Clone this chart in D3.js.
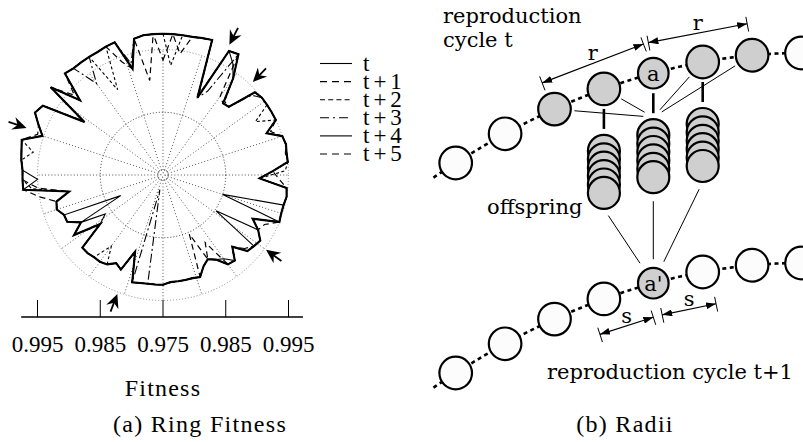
<!DOCTYPE html>
<html><head><meta charset="utf-8">
<script src="https://cdn.jsdelivr.net/npm/d3@7"></script>
<style>body{margin:0;background:#fff}svg{display:block}</style>
</head><body><svg id="c" width="803" height="442"></svg>
<script>
// ---------- DATA : (a) Ring Fitness ----------
const ringAngles = d3.range(0, 360, 4);          // position of each individual on the ring (deg, clockwise from top)
const seriesNames = ["t", "t+1", "t+2", "t+3", "t+4", "t+5"];
const fitT0 = [
 .9975,.9975,.9975,.9975,.9977,.9979,.9885,.9974,.9977,.9940,
 .9899,.9901,.9947,.9950,.9950,.9950,.9950,.9928,.9950,.9952,
 .9950,.9950,.9925,.9904,.9948,.9950,.9948,.9948,.9950,.9909,
 .9925,.9937,.9934,.9931,.9909,.9928,.9926,.9909,.9902,.9909,
 .9923,.9921,.9921,.9921,.9921,.9925,.9925,.9925,.9926,.9928,
 .9880,.9915,.9909,.9918,.9921,.9921,.9923,.9923,.9877,.9921,
 .9901,.9920,.9920,.9928,.9925,.9902,.9974,.9974,.9974,.9977,
 .9979,.9982,.9952,.9964,.9977,.9971,.9901,.9977,.9928,.9975,
 .9972,.9972,.9972,.9972,.9974,.9975,.9926,.9972,.9975,.9975];
const fitT1 = [
 .9975,.9975,.9975,.9975,.9976,.9979,.9890,.9974,.9977,.9905,
 .9899,.9903,.9947,.9950,.9950,.9950,.9950,.9928,.9950,.9952,
 .9948,.9950,.9925,.9904,.9948,.9950,.9948,.9948,.9950,.9930,
 .9925,.9937,.9934,.9931,.9909,.9928,.9926,.9909,.9902,.9853,
 .9923,.9921,.9921,.9921,.9922,.9925,.9925,.9925,.9926,.9928,
 .9880,.9915,.9909,.9918,.9921,.9921,.9923,.9923,.9880,.9921,
 .9901,.9920,.9920,.9928,.9925,.9902,.9950,.9974,.9974,.9977,
 .9979,.9982,.9960,.9964,.9977,.9971,.9905,.9977,.9928,.9975,
 .9972,.9972,.9972,.9972,.9974,.9975,.9926,.9972,.9902,.9975];
const fitT2 = [
 .9975,.9925,.9975,.9975,.9977,.9979,.9885,.9974,.9977,.9940,
 .9903,.9901,.9947,.9950,.9950,.9920,.9950,.9928,.9950,.9952,
 .9950,.9950,.9945,.9904,.9948,.9950,.9948,.9948,.9950,.9909,
 .9925,.9937,.9934,.9931,.9909,.9928,.9926,.9909,.9902,.9909,
 .9923,.9921,.9921,.9921,.9921,.9925,.9925,.9925,.9926,.9928,
 .9880,.9915,.9909,.9918,.9890,.9921,.9923,.9923,.9877,.9921,
 .9901,.9920,.9920,.9928,.9925,.9902,.9960,.9974,.9974,.9977,
 .9960,.9982,.9952,.9964,.9977,.9971,.9901,.9977,.9928,.9975,
 .9972,.9972,.9972,.9904,.9974,.9975,.9926,.9972,.9975,.9975];
const fitT3 = [
 .9975,.9975,.9975,.9975,.9977,.9979,.9885,.9901,.9977,.9940,
 .9899,.9901,.9940,.9950,.9950,.9950,.9950,.9928,.9950,.9952,
 .9950,.9950,.9925,.9904,.9948,.9950,.9948,.9948,.9950,.9909,
 .9925,.9937,.9934,.9925,.9909,.9928,.9926,.9909,.9902,.9909,
 .9923,.9921,.9921,.9921,.9921,.9925,.9925,.9925,.9774,.9928,
 .9880,.9915,.9909,.9918,.9921,.9921,.9923,.9923,.9877,.9921,
 .9901,.9920,.9920,.9928,.9925,.9902,.9974,.9974,.9974,.9977,
 .9979,.9982,.9952,.9964,.9977,.9971,.9901,.9977,.9928,.9975,
 .9972,.9930,.9972,.9972,.9974,.9975,.9935,.9972,.9975,.9975];
const fitT4 = [
 .9975,.9975,.9975,.9975,.9977,.9979,.9885,.9974,.9960,.9940,
 .9899,.9901,.9947,.9950,.9950,.9950,.9950,.9928,.9950,.9952,
 .9950,.9950,.9925,.9904,.9948,.9950,.9948,.9850,.9950,.9909,
 .9925,.9852,.9934,.9931,.9909,.9928,.9915,.9909,.9902,.9909,
 .9923,.9921,.9921,.9921,.9921,.9925,.9925,.9925,.9926,.9928,
 .9880,.9915,.9909,.9918,.9921,.9921,.9923,.9923,.9877,.9861,
 .9901,.9825,.9920,.9928,.9925,.9902,.9974,.9950,.9974,.9977,
 .9979,.9982,.9952,.9964,.9977,.9971,.9901,.9977,.9928,.9975,
 .9972,.9972,.9972,.9972,.9974,.9975,.9926,.9972,.9975,.9975];
const fitT5 = [
 .9933,.9975,.9945,.9975,.9977,.9979,.9885,.9974,.9977,.9940,
 .9899,.9901,.9947,.9950,.9950,.9950,.9950,.9935,.9950,.9952,
 .9950,.9950,.9925,.9935,.9948,.9950,.9948,.9948,.9950,.9909,
 .9925,.9937,.9934,.9931,.9909,.9928,.9926,.9877,.9902,.9909,
 .9923,.9921,.9921,.9921,.9921,.9925,.9925,.9925,.9926,.9928,
 .9880,.9915,.9909,.9918,.9921,.9921,.9923,.9923,.9877,.9921,
 .9901,.9920,.9920,.9928,.9925,.9950,.9974,.9974,.9974,.9977,
 .9979,.9982,.9952,.9964,.9977,.9971,.9901,.9977,.9940,.9975,
 .9972,.9972,.9972,.9972,.9974,.9942,.9926,.9972,.9975,.9975];
const axisTicks = [-0.02, -0.01, 0, 0.01, 0.02];   // signed distance from centre fitness
const centreFitness = 0.975;
const gridLevels = [0.97535, 0.9758, 0.985, 0.995];
const spokeAngles = d3.range(0, 360, 18);
const markAngles = [27, 44, 126, 201, 289];
const markTips = [0.9983, 0.9956, 0.9953, 0.9953, 0.9980];

// ---------- DATA : (b) Radii ----------
const ringIdx = [-4, -3, -2, -1, 0, 1, 2, 3];
const parentsT = [false, false, true, true, true, true, true, false];
const selectedT1 = [false, false, false, false, true, false, false, false];
const labelsT = ["", "", "", "", "a", "", "", ""];
const labelsT1 = ["", "", "", "", "a'", "", "", ""];
const cycles = ["t", "t+1"];
const stackParents = [-1, 0, 1];
const offspringPerParent = [0, 1, 2, 3, 4, 5];
const hubLinks = [-2, -1, 1, 2];
const rSpans = [[-2.25, -0.2], [-0.1, 1.9]];
const sSpans = [[-1.08, 0], [0.18, 1.27]];

// ---------- STYLES ----------
const seriesDash = [null, "6,4", "3,2.5", "9,3,2,3", null, "6,4"];
const seriesWidth = [2.1, 1.2, 1.1, 1.1, 1.1, 1.2];
const legendDash = [null, "7,5", "5,3.2", "9,4,2,4", null, "7,5"];
const serif = "'Liberation Serif', serif";
const dvs = "'DejaVu Serif', serif";

const svg = d3.select("#c");
svg.append("rect").attr("width", 803).attr("height", 442).attr("fill", "#fff");

// ================= (a) polar ring fitness =================
const cx = 163, cy = 175;
const rScale = d3.scaleLinear().domain([centreFitness, 0.995]).range([0, 125.5]);
const rad = d => d * Math.PI / 180;
const gP = svg.append("g").attr("transform", `translate(${cx},${cy})`);

gP.selectAll("line.spoke").data(spokeAngles).join("line")
  .attr("x1", d => rScale(gridLevels[1]) * Math.sin(rad(d)))
  .attr("y1", d => -rScale(gridLevels[1]) * Math.cos(rad(d)))
  .attr("x2", d => rScale(0.995) * Math.sin(rad(d)))
  .attr("y2", d => -rScale(0.995) * Math.cos(rad(d)))
  .attr("stroke", "#555").attr("stroke-width", 1).attr("stroke-dasharray", "1,2.2");

gP.selectAll("circle.grid").data(gridLevels).join("circle")
  .attr("r", d => rScale(d)).attr("fill", "none")
  .attr("stroke", (d, i) => i === 3 ? "#888" : "#333")
  .attr("stroke-width", 1).attr("stroke-dasharray", "1,2");

const allSeries = [fitT0, fitT1, fitT2, fitT3, fitT4, fitT5];
const radial = d3.lineRadial()
  .angle((d, i) => rad(ringAngles[i]))
  .radius(d => rScale(d))
  .curve(d3.curveLinearClosed);
const order = [1, 2, 3, 4, 5, 0];
order.forEach(k => {
  gP.append("path").datum(allSeries[k]).attr("d", radial)
    .attr("fill", "none").attr("stroke", "#000")
    .attr("stroke-width", seriesWidth[k])
    .attr("stroke-linejoin", "miter")
    .attr("stroke-dasharray", seriesDash[k]);
});

// arrow marks pointing inward
markAngles.forEach((a, i) => {
  const r = rScale(markTips[i]);
  const x = r * Math.sin(rad(a)), y = -r * Math.cos(rad(a));
  const dir = Math.atan2(Math.cos(rad(a)), -Math.sin(rad(a))) * 180 / Math.PI;
  const g = gP.append("g").attr("transform", `translate(${x},${y}) rotate(${dir})`);
  g.append("line").attr("x1", -19).attr("x2", -8).attr("y1", 0).attr("y2", 0)
    .attr("stroke", "#000").attr("stroke-width", 1.8);
  g.append("path").attr("d", "M0,0 L-14,-6.5 L-9.5,0 L-14,6.5 Z").attr("fill", "#000");
});

// fitness axis
const xAxisScale = d3.scaleLinear().domain([-0.02, 0.02]).range([cx - 125.5, cx + 125.5]);
const axisY = 317;
svg.append("line").attr("x1", xAxisScale(-0.0226)).attr("x2", xAxisScale(0.0223))
  .attr("y1", axisY).attr("y2", axisY).attr("stroke", "#000").attr("stroke-width", 1.4);
svg.selectAll("line.tick").data(axisTicks).join("line")
  .attr("x1", d => xAxisScale(d)).attr("x2", d => xAxisScale(d))
  .attr("y1", axisY).attr("y2", axisY - 17).attr("stroke", "#000").attr("stroke-width", 1);
svg.selectAll("text.tl").data(axisTicks).join("text")
  .attr("x", d => xAxisScale(d)).attr("y", 352).attr("text-anchor", "middle")
  .attr("font-family", serif).attr("font-size", 23)
  .text(d => (centreFitness + Math.abs(d)).toFixed(3));
svg.append("text").attr("x", cx).attr("y", 396).attr("text-anchor", "middle")
  .attr("font-family", serif).attr("font-size", 24).attr("letter-spacing", 1.2).text("Fitness");
svg.append("text").attr("x", 200).attr("y", 432).attr("text-anchor", "middle")
  .attr("font-family", serif).attr("font-size", 24).attr("letter-spacing", 1.3).text("(a) Ring Fitness");

// legend
const lg = svg.append("g");
seriesNames.forEach((n, i) => {
  const y = 63.5 + 18.1 * i;
  lg.append("line").attr("x1", 320).attr("x2", 352).attr("y1", y).attr("y2", y)
    .attr("stroke", "#000").attr("stroke-width", 1.1).attr("stroke-dasharray", legendDash[i]);
  lg.append("text").attr("x", 363).attr("y", y + 7).attr("font-family", serif)
    .attr("font-size", 23).attr("letter-spacing", 4).text(n);
});

// ================= (b) Radii diagram =================
const xR = d3.scaleLinear().domain([-4, 3]).range([455.7, 801.5]);
const yR = d3.scalePow().exponent(2).domain([0, 7]).range([53, 163]);
const cycleY = d3.scaleOrdinal().domain(cycles).range([0, 210]);
const pos = (i, c) => [xR(i), yR(3 - i) + cycleY(c)];
const gR = svg.append("g");

svg.append("defs").append("marker").attr("id", "ah")
  .attr("viewBox", "0 0 10 7").attr("refX", 10).attr("refY", 3.5)
  .attr("markerWidth", 10).attr("markerHeight", 7).attr("markerUnits", "userSpaceOnUse")
  .attr("orient", "auto-start-reverse")
  .append("path").attr("d", "M0,0 L10,3.5 L0,7 Z").attr("fill", "#000");

// dotted ring chains
const chainLine = d3.line().curve(d3.curveLinear);
cycles.forEach(c => {
  const pts = d3.range(-4.45, 3.6, 0.05).map(i => pos(i, c));
  gR.append("path").attr("d", chainLine(pts)).attr("fill", "none")
    .attr("stroke", "#000").attr("stroke-width", 2.6).attr("stroke-dasharray", "4,3.5");
});

// hub lines from parents to middle offspring stack
const hub = [xR(0), pos(0, "t")[1] + 62 - 18];
hubLinks.forEach(i => {
  const p = pos(i, "t");
  const dx = p[0] - hub[0], dy = p[1] - hub[1], L = Math.hypot(dx, dy);
  const ux = dx / L, uy = dy / L;
  gR.append("line").attr("x1", hub[0] + 10 * ux).attr("y1", hub[1] + 10 * uy)
    .attr("x2", p[0] - 20 * ux).attr("y2", p[1] - 20 * uy)
    .attr("stroke", "#000").attr("stroke-width", 1);
});

// lines from offspring stacks to selected a'
const aP = pos(0, "t+1");
stackParents.forEach(i => {
  const p = pos(i, "t");
  const bx = p[0], by = p[1] + 62 + 8.4 * 5 + 16;
  const dx = aP[0] - bx, dy = aP[1] - by, L = Math.hypot(dx, dy);
  const ux = dx / L, uy = dy / L;
  gR.append("line").attr("x1", bx + 8 * ux).attr("y1", by + 8 * uy)
    .attr("x2", aP[0] - 24 * ux).attr("y2", aP[1] - 24 * uy)
    .attr("stroke", "#000").attr("stroke-width", 1);
  // thick connector parent -> stack
  gR.append("line").attr("x1", bx).attr("x2", bx)
    .attr("y1", p[1] + 20).attr("y2", p[1] + 62 - 22)
    .attr("stroke", "#000").attr("stroke-width", 2.6);
});

// offspring stacks
stackParents.forEach(i => {
  const p = pos(i, "t");
  offspringPerParent.forEach(k => {
    gR.append("circle").attr("cx", p[0]).attr("cy", p[1] + 62 + 8.4 * k).attr("r", 16)
      .attr("fill", "#cfcfcf").attr("stroke", "#000").attr("stroke-width", 2.2);
  });
});

// ring cells
cycles.forEach(c => {
  const filled = c === "t" ? parentsT : selectedT1;
  const labels = c === "t" ? labelsT : labelsT1;
  ringIdx.forEach((i, k) => {
    const p = pos(i, c);
    gR.append("circle").attr("cx", p[0]).attr("cy", p[1]).attr("r", labels[k] ? 15.3 : 16.3)
      .attr("fill", filled[k] ? "#cfcfcf" : "#fcfcfc").attr("stroke", "#000").attr("stroke-width", 2.2);
    if (labels[k]) gR.append("text").attr("x", p[0]).attr("y", p[1] + 7.5)
      .attr("text-anchor", "middle").attr("font-family", dvs).attr("font-size", 21).text(labels[k]);
  });
});

// dimension arrows
function dim(span, c, off, label) {
  const a = pos(span[0], c), b = pos(span[1], c);
  const A = [a[0], a[1] + off], B = [b[0], b[1] + off];
  gR.append("line").attr("x1", A[0]).attr("y1", A[1]).attr("x2", B[0]).attr("y2", B[1])
    .attr("stroke", "#000").attr("stroke-width", 1.2)
    .attr("marker-start", "url(#ah)").attr("marker-end", "url(#ah)");
  const dx = B[0] - A[0], dy = B[1] - A[1], L = Math.hypot(dx, dy);
  const nx = -dy / L, ny = dx / L;
  [A, B].forEach(P => gR.append("line")
    .attr("x1", P[0] - 7 * nx).attr("y1", P[1] - 7 * ny)
    .attr("x2", P[0] + 8 * nx).attr("y2", P[1] + 8 * ny)
    .attr("stroke", "#000").attr("stroke-width", 1));
  gR.append("text").attr("x", (A[0] + B[0]) / 2).attr("y", (A[1] + B[1]) / 2 - 3)
    .attr("text-anchor", "middle").attr("font-family", dvs).attr("font-size", 21).text(label);
}
rSpans.forEach(s => dim(s, "t", -32, "r"));
sSpans.forEach(s => dim(s, "t+1", 34, "s"));

// texts
const tx = (x, y, s, anchor) => gR.append("text").attr("x", x).attr("y", y)
  .attr("text-anchor", anchor || "start").attr("font-family", dvs).attr("font-size", 21).text(s);
tx(443, 23, "reproduction");
tx(443, 47, "cycle t");
tx(487, 214, "offspring");
tx(547, 379, "reproduction cycle t+1");
svg.append("text").attr("x", 625).attr("y", 432).attr("text-anchor", "middle")
  .attr("font-family", serif).attr("font-size", 24).attr("letter-spacing", 1.3).text("(b) Radii");
</script>
</body></html>
